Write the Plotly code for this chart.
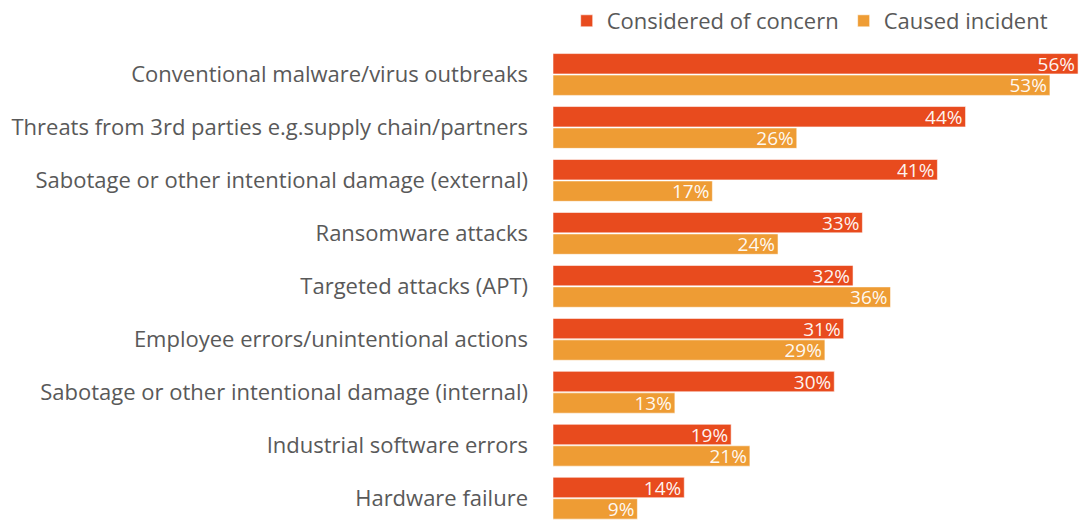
import plotly.graph_objects as go

categories = [
    "Conventional malware/virus outbreaks",
    "Threats from 3rd parties e.g.supply chain/partners",
    "Sabotage or other intentional damage (external)",
    "Ransomware attacks",
    "Targeted attacks (APT)",
    "Employee errors/unintentional actions",
    "Sabotage or other intentional damage (internal)",
    "Industrial software errors",
    "Hardware failure",
]
concern = [56, 44, 41, 33, 32, 31, 30, 19, 14]
incident = [53, 26, 17, 24, 36, 29, 13, 21, 9]
series_names = ["Considered of concern", "Caused incident"]

RED = "#E84B1E"
ORANGE = "#EE9C34"
FONT = "Open Sans"

fig = go.Figure()
for name, vals, col in [(series_names[0], concern, RED), (series_names[1], incident, ORANGE)]:
    fig.add_trace(go.Bar(
        y=categories, x=vals, name=name, orientation="h",
        marker=dict(color=col, line=dict(color="rgba(255,255,255,0.55)", width=1)),
        text=[f"{v}%" for v in vals], textposition="inside", insidetextanchor="end",
        textfont=dict(color="rgba(255,255,255,0.95)", size=19, family=FONT),
        cliponaxis=False, constraintext="none",
    ))

fig.update_layout(
    width=1079, height=521,
    margin=dict(l=553, r=0, t=48, b=0),
    paper_bgcolor="white", plot_bgcolor="white",
    barmode="group", bargap=0.19, bargroupgap=0.05,
    font=dict(family=FONT, color="#595959", size=22),
    showlegend=True,
    legend=dict(orientation="h", x=0.95, xanchor="right", yref="container", y=1.0, yanchor="top",
                font=dict(size=22, color="#595959", family=FONT),
                traceorder="normal", itemwidth=30, bgcolor="rgba(0,0,0,0)"),
    xaxis=dict(range=[0, 56.1], visible=False, showgrid=False, zeroline=False),
    yaxis=dict(type="category", range=[8.43, -0.5], showgrid=False, zeroline=False,
               showline=False, ticks="", ticklabelstandoff=24,
               tickfont=dict(size=22, color="#595959", family=FONT)),
)

fig.write_html("out.html", config={"displayModeBar": False})
with open("out.html", "r", encoding="utf-8") as f:
    html = f.read()
html = html.replace("<head>", "<head><style>html,body{margin:0;padding:0;overflow:hidden}</style>", 1)
with open("out.html", "w", encoding="utf-8") as f:
    f.write(html)
